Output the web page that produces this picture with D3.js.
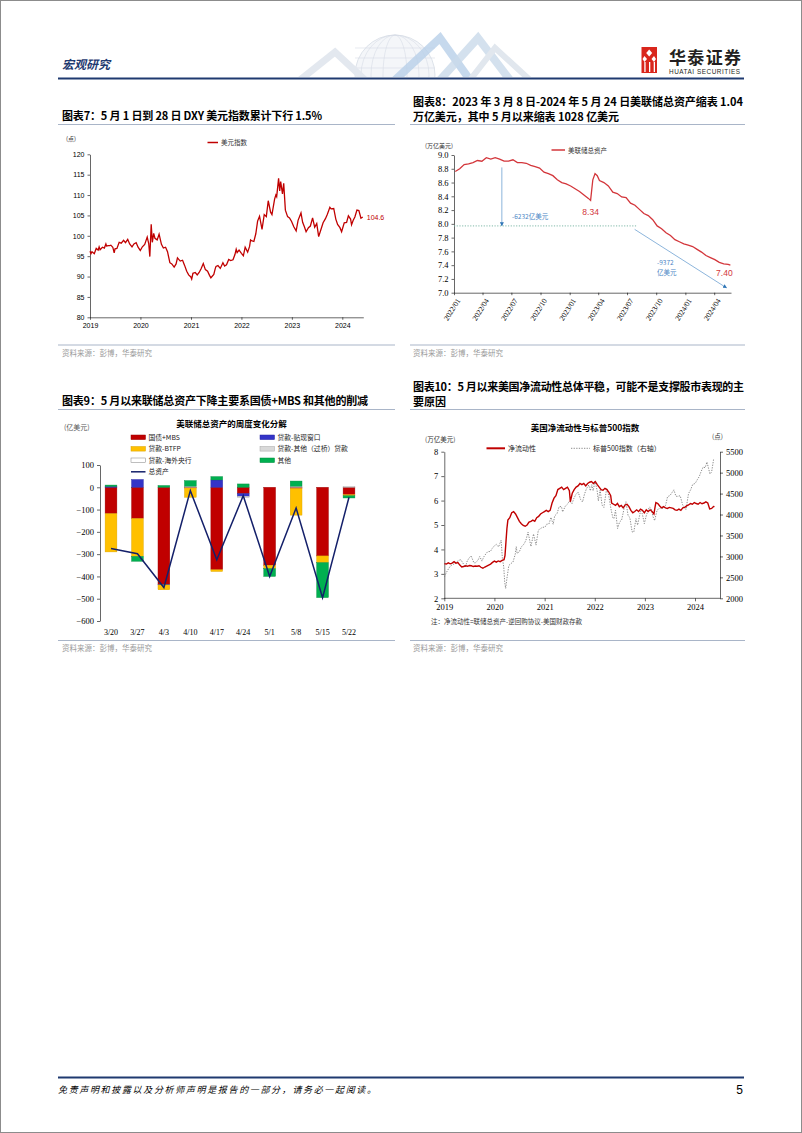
<!DOCTYPE html>
<html><head><meta charset="utf-8">
<script src="https://cdn.jsdelivr.net/npm/d3@7"></script>
<style>body{margin:0;background:#fff}svg{display:block}</style>
</head><body>
<svg id="page" width="802" height="1133"></svg>
<script>
// ---------------- DATA ----------------
const dxyTicks = [80,85,90,95,100,105,110,115,120];
const yearTicks = ["2019","2020","2021","2022","2023","2024"];
const dxyData = [
["2019-01-01",96.2],["2019-01-08",95.6],["2019-01-15",96.1],["2019-01-22",95.9],["2019-02-01",95.6],["2019-02-15",96.9],["2019-03-01",96.5],["2019-03-08",97.3],["2019-03-15",96.6],["2019-04-01",97.2],["2019-04-15",97.0],["2019-04-26",98.0],["2019-05-01",97.5],["2019-05-15",97.6],["2019-05-24",97.6],["2019-06-01",97.7],["2019-06-15",97.2],["2019-06-25",95.8],["2019-07-01",96.8],["2019-07-15",96.9],["2019-07-31",98.4],["2019-08-15",98.2],["2019-09-01",98.9],["2019-09-15",98.3],["2019-10-01",99.1],["2019-10-15",98.0],["2019-11-01",97.3],["2019-11-15",98.0],["2019-12-01",98.3],["2019-12-15",97.2],["2019-12-31",96.4],
["2020-01-15",97.3],["2020-02-01",97.9],["2020-02-19",99.7],["2020-03-01",98.1],["2020-03-09",94.9],["2020-03-19",102.8],["2020-03-27",98.4],["2020-04-06",100.6],["2020-04-15",99.4],["2020-05-01",99.0],["2020-05-15",100.4],["2020-06-01",97.9],["2020-06-15",97.0],["2020-07-01",97.2],["2020-07-15",96.1],["2020-08-01",93.4],["2020-08-15",93.1],["2020-09-01",92.3],["2020-09-15",93.1],["2020-09-25",94.6],["2020-10-15",93.8],["2020-11-01",94.0],["2020-11-15",92.8],["2020-12-01",91.3],["2020-12-15",90.4],["2020-12-31",89.9],
["2021-01-06",89.4],["2021-01-15",90.8],["2021-02-01",91.0],["2021-02-15",90.4],["2021-03-01",91.0],["2021-03-15",91.9],["2021-03-31",93.2],["2021-04-15",91.7],["2021-05-01",91.3],["2021-05-15",90.3],["2021-05-25",89.7],["2021-06-15",90.5],["2021-06-25",91.9],["2021-07-01",92.5],["2021-07-15",92.7],["2021-08-01",92.0],["2021-08-20",93.4],["2021-09-01",92.6],["2021-09-15",92.9],["2021-10-01",94.2],["2021-10-15",93.9],["2021-11-01",94.1],["2021-11-15",95.4],["2021-11-24",96.7],["2021-12-01",95.9],["2021-12-15",96.5],
["2022-01-01",95.7],["2022-01-15",95.1],["2022-01-28",97.2],["2022-02-15",96.0],["2022-03-01",97.4],["2022-03-08",99.0],["2022-03-15",98.8],["2022-04-01",98.6],["2022-04-15",100.5],["2022-04-28",103.6],["2022-05-12",104.8],["2022-05-30",101.6],["2022-06-15",105.2],["2022-06-30",104.7],["2022-07-14",108.6],["2022-07-31",105.8],["2022-08-10",105.2],["2022-08-29",109.0],["2022-09-07",110.0],["2022-09-13",109.6],["2022-09-27",114.1],["2022-10-05",111.0],["2022-10-12",113.3],["2022-10-25",110.3],["2022-11-03",112.9],["2022-11-15",106.3],["2022-12-01",104.7],["2022-12-15",104.4],["2022-12-30",103.5],
["2023-01-15",102.2],["2023-02-01",101.2],["2023-02-15",103.8],["2023-03-08",105.6],["2023-03-20",103.3],["2023-04-01",102.3],["2023-04-14",101.0],["2023-05-01",102.0],["2023-05-15",102.4],["2023-05-31",104.4],["2023-06-15",102.1],["2023-06-30",103.0],["2023-07-14",99.8],["2023-07-31",101.6],["2023-08-15",103.2],["2023-09-01",104.2],["2023-09-15",105.3],["2023-10-03",107.0],["2023-10-12",106.6],["2023-10-31",106.7],["2023-11-15",104.1],["2023-11-28",102.8],["2023-12-15",102.0],["2023-12-27",101.0],
["2024-01-15",103.2],["2024-02-01",103.3],["2024-02-14",104.9],["2024-03-01",104.1],["2024-03-08",102.7],["2024-03-20",103.8],["2024-04-01",104.6],["2024-04-16",106.3],["2024-04-30",106.2],["2024-05-15",104.3],["2024-05-28",104.6]
];
const dxyLastLabel = "104.6";

const fedTicks = [7.0,7.2,7.4,7.6,7.8,8.0,8.2,8.4,8.6,8.8,9.0];
const fedQuarterTicks = ["2022-01-01","2022-04-01","2022-07-01","2022-10-01","2023-01-01","2023-04-01","2023-07-01","2023-10-01","2024-01-01","2024-04-01"];
const fedData = [
["2022-01-05",8.76],["2022-01-19",8.80],["2022-02-02",8.86],["2022-02-16",8.87],["2022-03-02",8.89],["2022-03-16",8.92],["2022-03-30",8.91],["2022-04-13",8.96],["2022-04-27",8.94],["2022-05-11",8.96],["2022-05-25",8.94],["2022-06-08",8.91],["2022-06-22",8.91],["2022-07-06",8.93],["2022-07-20",8.89],["2022-08-03",8.89],["2022-08-17",8.88],["2022-08-31",8.85],["2022-09-14",8.83],["2022-09-28",8.81],["2022-10-12",8.75],["2022-10-26",8.73],["2022-11-09",8.70],["2022-11-23",8.64],["2022-12-07",8.60],["2022-12-21",8.58],["2023-01-04",8.55],["2023-01-18",8.51],["2023-02-01",8.47],["2023-02-15",8.42],["2023-03-01",8.37],["2023-03-08",8.34],["2023-03-15",8.64],["2023-03-22",8.73],["2023-03-29",8.70],["2023-04-05",8.63],["2023-04-19",8.60],["2023-05-03",8.55],["2023-05-17",8.46],["2023-05-31",8.44],["2023-06-14",8.39],["2023-06-28",8.38],["2023-07-12",8.30],["2023-07-26",8.27],["2023-08-09",8.21],["2023-08-23",8.15],["2023-09-06",8.12],["2023-09-20",8.06],["2023-10-04",7.97],["2023-10-18",7.93],["2023-11-01",7.87],["2023-11-15",7.83],["2023-11-29",7.77],["2023-12-13",7.74],["2023-12-27",7.71],["2024-01-10",7.69],["2024-01-24",7.67],["2024-02-07",7.63],["2024-02-21",7.59],["2024-03-06",7.54],["2024-03-20",7.51],["2024-04-03",7.48],["2024-04-17",7.44],["2024-05-01",7.42],["2024-05-15",7.41],["2024-05-22",7.40]
];

const weekLabels = ["3/20","3/27","4/3","4/10","4/17","4/24","5/1","5/8","5/15","5/22"];
const treasuryMBS   = [-118,-140,-435,-3,-370,-28,-350,-5,-308,-33];
const discountWindow= [4,35,-3,0,33,-12,0,0,0,0];
const btfp          = [-172,-170,-22,-42,-8,0,-15,-120,-30,-5];
const otherLoans    = [0,0,0,5,0,-5,0,5,0,3];
const foreignCB     = [0,0,0,0,0,0,0,0,0,0];
const otherItems    = [6,-22,8,25,15,15,-35,23,-157,-10];
const totalChange   = [-275,-298,-450,-15,-325,-38,-400,-93,-495,-45];
const chgTicks = [-600,-500,-400,-300,-200,-100,0,100];

const nlTicks = [2,3,4,5,6,7,8];
const spxTicks = [2000,2500,3000,3500,4000,4500,5000,5500];
const netLiq = [
["2019-01-02",3.42],["2019-01-16",3.40],["2019-01-30",3.45],["2019-02-13",3.41],["2019-02-27",3.44],["2019-03-13",3.50],["2019-03-27",3.44],["2019-04-10",3.46],["2019-04-24",3.36],["2019-05-08",3.28],["2019-05-22",3.30],["2019-06-05",3.33],["2019-06-19",3.31],["2019-07-03",3.34],["2019-07-17",3.33],["2019-07-31",3.30],["2019-08-14",3.32],["2019-08-28",3.31],["2019-09-11",3.33],["2019-09-25",3.27],["2019-10-09",3.23],["2019-10-23",3.28],["2019-11-06",3.32],["2019-11-20",3.36],["2019-12-04",3.40],["2019-12-18",3.47],["2020-01-01",3.52],["2020-01-15",3.48],["2020-01-29",3.53],["2020-02-12",3.50],["2020-02-26",3.55],["2020-03-11",3.58],["2020-03-18",3.75],["2020-03-25",4.30],["2020-04-01",4.85],["2020-04-08",5.20],["2020-04-22",5.30],["2020-05-06",5.50],["2020-05-20",5.55],["2020-06-03",5.45],["2020-06-17",5.30],["2020-07-01",5.15],["2020-07-15",5.05],["2020-07-29",4.98],["2020-08-12",4.95],["2020-08-26",5.00],["2020-09-09",5.12],["2020-09-23",5.15],["2020-10-07",5.20],["2020-10-21",5.15],["2020-11-04",5.30],["2020-11-18",5.35],["2020-12-02",5.45],["2020-12-16",5.50],["2020-12-30",5.55],["2021-01-13",5.60],["2021-01-27",5.55],["2021-02-10",5.60],["2021-02-24",5.90],["2021-03-10",6.10],["2021-03-24",6.20],["2021-04-07",6.45],["2021-04-21",6.50],["2021-05-05",6.55],["2021-05-19",6.45],["2021-06-02",6.50],["2021-06-16",6.55],["2021-06-30",6.40],["2021-07-07",5.95],["2021-07-21",6.30],["2021-08-04",6.45],["2021-08-18",6.55],["2021-09-01",6.60],["2021-09-15",6.70],["2021-09-29",6.65],["2021-10-13",6.70],["2021-10-27",6.60],["2021-11-10",6.70],["2021-11-24",6.75],["2021-12-08",6.78],["2021-12-22",6.70],["2022-01-05",6.78],["2022-01-19",6.65],["2022-02-02",6.55],["2022-02-16",6.45],["2022-03-02",6.42],["2022-03-16",6.50],["2022-03-30",6.45],["2022-04-13",6.35],["2022-04-27",6.20],["2022-05-04",5.90],["2022-05-18",5.85],["2022-06-01",5.80],["2022-06-15",5.88],["2022-06-29",5.75],["2022-07-13",5.80],["2022-07-27",5.70],["2022-08-10",5.82],["2022-08-24",5.85],["2022-09-07",5.75],["2022-09-21",5.60],["2022-10-05",5.50],["2022-10-19",5.55],["2022-11-02",5.62],["2022-11-16",5.55],["2022-11-30",5.65],["2022-12-14",5.60],["2022-12-28",5.50],["2023-01-11",5.62],["2023-01-25",5.55],["2023-02-08",5.62],["2023-02-22",5.55],["2023-03-08",5.45],["2023-03-15",5.70],["2023-03-22",5.92],["2023-04-05",5.88],["2023-04-19",5.78],["2023-05-03",5.70],["2023-05-17",5.75],["2023-05-31",5.70],["2023-06-14",5.68],["2023-06-28",5.72],["2023-07-12",5.70],["2023-07-26",5.68],["2023-08-09",5.62],["2023-08-23",5.60],["2023-09-06",5.65],["2023-09-20",5.60],["2023-10-04",5.70],["2023-10-18",5.72],["2023-11-01",5.78],["2023-11-15",5.82],["2023-11-29",5.88],["2023-12-13",5.85],["2023-12-27",5.92],["2024-01-10",5.88],["2024-01-24",5.85],["2024-02-07",5.92],["2024-02-21",5.87],["2024-03-06",5.90],["2024-03-20",5.95],["2024-04-03",5.90],["2024-04-17",5.66],["2024-05-01",5.68],["2024-05-15",5.76],["2024-05-22",5.75]
];
const spx = [
["2019-01-02",2510],["2019-01-16",2615],["2019-02-01",2706],["2019-02-15",2775],["2019-03-01",2803],["2019-03-15",2822],["2019-04-01",2867],["2019-04-15",2905],["2019-05-01",2923],["2019-05-15",2850],["2019-06-03",2744],["2019-06-17",2889],["2019-07-01",2964],["2019-07-15",3014],["2019-08-05",2845],["2019-08-15",2848],["2019-09-03",2906],["2019-09-16",2998],["2019-10-02",2888],["2019-10-16",2990],["2019-11-01",3067],["2019-11-15",3120],["2019-12-02",3114],["2019-12-16",3191],["2020-01-02",3258],["2020-01-15",3289],["2020-01-31",3226],["2020-02-19",3386],["2020-02-28",2954],["2020-03-09",2747],["2020-03-16",2386],["2020-03-23",2237],["2020-04-01",2471],["2020-04-15",2784],["2020-05-01",2831],["2020-05-15",2864],["2020-06-01",3055],["2020-06-08",3232],["2020-06-15",3067],["2020-07-01",3115],["2020-07-15",3227],["2020-08-03",3294],["2020-08-17",3381],["2020-09-02",3580],["2020-09-23",3237],["2020-10-12",3535],["2020-10-30",3270],["2020-11-16",3627],["2020-12-01",3662],["2020-12-15",3694],["2021-01-04",3700],["2021-01-15",3768],["2021-02-01",3774],["2021-02-16",3932],["2021-03-04",3768],["2021-03-15",3968],["2021-04-01",4020],["2021-04-16",4185],["2021-05-03",4192],["2021-05-12",4063],["2021-06-01",4202],["2021-06-15",4246],["2021-07-01",4320],["2021-07-19",4258],["2021-08-02",4387],["2021-08-16",4479],["2021-09-02",4537],["2021-09-20",4358],["2021-10-04",4300],["2021-10-18",4486],["2021-11-01",4613],["2021-11-18",4704],["2021-11-30",4567],["2021-12-10",4712],["2021-12-20",4568],["2022-01-03",4796],["2022-01-18",4577],["2022-01-27",4326],["2022-02-09",4587],["2022-02-23",4225],["2022-03-08",4170],["2022-03-29",4631],["2022-04-13",4447],["2022-04-29",4132],["2022-05-12",3930],["2022-05-20",3901],["2022-06-01",4101],["2022-06-16",3667],["2022-07-01",3825],["2022-07-15",3863],["2022-08-01",4119],["2022-08-16",4305],["2022-09-01",3967],["2022-09-13",3932],["2022-09-30",3586],["2022-10-12",3577],["2022-10-28",3901],["2022-11-09",3748],["2022-11-30",4080],["2022-12-13",4020],["2022-12-28",3783],["2023-01-12",3983],["2023-02-02",4179],["2023-02-15",4147],["2023-03-01",3951],["2023-03-13",3855],["2023-03-31",4109],["2023-04-14",4137],["2023-05-01",4167],["2023-05-15",4136],["2023-06-01",4221],["2023-06-15",4426],["2023-07-03",4455],["2023-07-31",4589],["2023-08-15",4437],["2023-08-28",4433],["2023-09-15",4450],["2023-10-03",4229],["2023-10-27",4117],["2023-11-15",4502],["2023-12-01",4595],["2023-12-15",4719],["2024-01-02",4742],["2024-01-19",4840],["2024-02-01",4906],["2024-02-15",5030],["2024-03-01",5137],["2024-03-15",5117],["2024-03-28",5254],["2024-04-19",4967],["2024-05-01",5018],["2024-05-15",5308],["2024-05-22",5307]
];

// ---------------- SETUP ----------------
const svg = d3.select('#page');
const parse = d3.timeParse('%Y-%m-%d');
const SANS = 'Liberation Sans, Arial, sans-serif';
const SERIF = 'Liberation Serif, Times New Roman, serif';
const CJK = 'Noto Sans CJK SC, sans-serif';
const NAVY = '#1f3a70';
const RULE = '#a9b5c8';

function styleAxis(g, font, size){
  g.attr('font-family', font).attr('font-size', size);
  g.selectAll('text').attr('fill','#000');
  g.selectAll('line,path').attr('stroke','#000').attr('stroke-width',0.6);
}
function txt(x,y,s,opt={}){
  const t = svg.append('text').attr('x',x).attr('y',y).text(s)
    .attr('font-family',opt.font||CJK).attr('font-size',opt.size||8)
    .attr('fill',opt.fill||'#000');
  if(opt.weight) t.attr('font-weight',opt.weight);
  if(opt.anchor) t.attr('text-anchor',opt.anchor);
  if(opt.style) t.attr('font-style',opt.style);
  if(opt.len) t.attr('textLength',opt.len).attr('lengthAdjust','spacing');
  return t;
}
function hline(y,x1,x2,color,w){
  svg.append('line').attr('x1',x1).attr('x2',x2).attr('y1',y).attr('y2',y).attr('stroke',color).attr('stroke-width',w);
}

// page border
svg.append('rect').attr('x',0.5).attr('y',0.5).attr('width',801).attr('height',1132).attr('fill','none').attr('stroke','#8c8c8c');

// ---------------- HEADER ----------------
const deco = svg.append('g');
deco.append('defs').append('clipPath').attr('id','hc').append('rect').attr('x',280).attr('y',28).attr('width',280).attr('height',49);
const dg = deco.append('g').attr('clip-path','url(#hc)');
dg.append('circle').attr('cx',395).attr('cy',75).attr('r',40).attr('fill','#f4f6f9').attr('stroke','#d6dce5').attr('stroke-width',0.8);
[12,24,34].forEach(rx=>dg.append('ellipse').attr('cx',395).attr('cy',75).attr('rx',rx).attr('ry',40).attr('fill','none').attr('stroke','#d6dce5').attr('stroke-width',0.6));
[48,58,68].forEach(y=>dg.append('line').attr('x1',355).attr('x2',435).attr('y1',y).attr('y2',y).attr('stroke','#d6dce5').attr('stroke-width',0.6));
dg.append('polyline').attr('points','300,80 335,52 365,80').attr('fill','none').attr('stroke','#e3e8ef').attr('stroke-width',7);
dg.append('polyline').attr('points','395,80 440,38 470,80').attr('fill','none').attr('stroke','#b8cfe8').attr('stroke-width',8).attr('opacity',0.8);
dg.append('polyline').attr('points','440,80 478,38 510,80').attr('fill','none').attr('stroke','#c9d9ea').attr('stroke-width',8).attr('opacity',0.8);
dg.append('polyline').attr('points','470,80 495,48 530,80').attr('fill','none').attr('stroke','#e1e7ee').attr('stroke-width',6);

txt(62,69,'宏观研究',{size:12,weight:'bold',fill:NAVY,style:'italic'});
hline(78.5,58,744,NAVY,2);
// logo
const lg = svg.append('g');
lg.append('rect').attr('x',641.5).attr('y',47).attr('width',15.5).attr('height',26).attr('fill','#d9261c');
lg.append('path').attr('d','M649.2,49.5 L652.2,53 L649.2,56.5 L646.2,53 Z').attr('fill','#fff');
lg.append('path').attr('d','M644.5,56 L647,59 L644.5,62 L642.5,59 Z').attr('fill','#fff');
lg.append('path').attr('d','M654,56 L656,59 L654,62 L651.5,59 Z').attr('fill','#fff');
[644.3,649,653.7].forEach(x=>lg.append('rect').attr('x',x).attr('y',62).attr('width',1.3).attr('height',10).attr('fill','#fff'));
txt(669,64,'华泰证券',{size:17,weight:'bold',fill:'#231f20',len:72});
txt(669,73.5,'HUATAI SECURITIES',{font:SANS,size:6.4,fill:'#231f20',len:71});

// ---------------- TITLES / RULES ----------------
txt(62,120,'图表7：5 月 1 日到 28 日 DXY 美元指数累计下行 1.5%',{size:11,weight:'bold',len:260});
txt(413,106,'图表8：2023 年 3 月 8 日-2024 年 5 月 24 日美联储总资产缩表 1.04',{size:11,weight:'bold',len:330});
txt(413,120.5,'万亿美元，其中 5 月以来缩表 1028 亿美元',{size:11,weight:'bold',len:206});
hline(124.5,58,395,RULE,1); hline(124.5,410,745,RULE,1);
hline(345,58,395,RULE,1); hline(345,410,745,RULE,1);
txt(62,355.5,'资料来源：彭博，华泰研究',{size:7.5,fill:'#9a9a9a'});
txt(413,355.5,'资料来源：彭博，华泰研究',{size:7.5,fill:'#9a9a9a'});

txt(62,405,'图表9：5 月以来联储总资产下降主要系国债+MBS 和其他的削减',{size:11,weight:'bold',len:306});
txt(413,391,'图表10：5 月以来美国净流动性总体平稳，可能不是支撑股市表现的主',{size:11,weight:'bold',len:331});
txt(413,406,'要原因',{size:11,weight:'bold'});
hline(409.5,58,395,RULE,1); hline(409.5,410,745,RULE,1);
hline(640.5,58,395,RULE,1); hline(640.5,410,745,RULE,1);
txt(62,651,'资料来源：彭博，华泰研究',{size:7.5,fill:'#9a9a9a'});
txt(413,651,'资料来源：彭博，华泰研究',{size:7.5,fill:'#9a9a9a'});

// ---------------- CHART 7 ----------------
{
  const x = d3.scaleTime().domain([parse('2019-01-01'),parse('2024-06-01')]).range([90,363.3]);
  const y = d3.scaleLinear().domain([80,120]).range([317.3,154.3]);
  const gy = svg.append('g').attr('transform','translate(90,0)')
    .call(d3.axisLeft(y).tickValues(dxyTicks).tickSize(2.5).tickPadding(3).tickSizeOuter(0));
  styleAxis(gy,SANS,7);
  const gx = svg.append('g').attr('transform','translate(0,317.3)')
    .call(d3.axisBottom(x).tickValues(yearTicks.map(s=>parse(s+'-01-01'))).tickFormat(d3.timeFormat('%Y')).tickSize(2.5).tickPadding(3).tickSizeOuter(0));
  styleAxis(gx,SANS,7);
  svg.append('path').datum(dxyData).attr('fill','none').attr('stroke','#c00000').attr('stroke-width',1.3)
    .attr('d',d3.line().x(d=>x(parse(d[0]))).y(d=>y(d[1])));
  const last = dxyData[dxyData.length-1];
  txt(x(parse(last[0]))+4,y(last[1])+2.5,dxyLastLabel,{font:SANS,size:7,fill:'#c00000'});
  svg.append('line').attr('x1',207.5).attr('x2',218).attr('y1',142.5).attr('y2',142.5).attr('stroke','#c00000').attr('stroke-width',1.5);
  txt(221,145,'美元指数',{size:6.5,fill:'#333'});
  txt(66,141,'(点)',{size:6,fill:'#333'});
}

// ---------------- CHART 8 ----------------
{
  const x = d3.scaleTime().domain([parse('2022-01-01'),parse('2024-05-24')]).range([454,731]);
  const y = d3.scaleLinear().domain([7,9]).range([292.7,155]);
  const gy = svg.append('g').attr('transform','translate(454,0)')
    .call(d3.axisLeft(y).tickValues(fedTicks).tickFormat(d3.format('.1f')).tickSize(2.5).tickPadding(3).tickSizeOuter(0));
  styleAxis(gy,SERIF,8.5);
  const gx = svg.append('g').attr('transform','translate(0,292.7)')
    .call(d3.axisBottom(x).tickValues(fedQuarterTicks.map(parse)).tickFormat(d3.timeFormat('%Y/%m')).tickSize(2.5).tickSizeOuter(0));
  styleAxis(gx,SERIF,7.5);
  gx.selectAll('text').attr('text-anchor','end').attr('dy','0.3em').attr('dx','-0.1em').attr('transform','translate(0,3) rotate(-58)');
  svg.append('path').datum(fedData).attr('fill','none').attr('stroke','#d3363b').attr('stroke-width',1.3)
    .attr('d',d3.line().x(d=>x(parse(d[0]))).y(d=>y(d[1])));
  svg.append('line').attr('x1',551.5).attr('x2',565).attr('y1',150).attr('y2',150).attr('stroke','#d3363b').attr('stroke-width',1.5);
  txt(568,152.5,'美联储总资产',{size:6.5,fill:'#333'});
  txt(425,148,'(万亿美元)',{size:6,fill:'#333'});
  // annotations
  const defs = svg.append('defs');
  defs.append('marker').attr('id','arr').attr('viewBox','0 0 10 10').attr('refX',9).attr('refY',5)
    .attr('markerWidth',5).attr('markerHeight',5).attr('orient','auto')
    .append('path').attr('d','M0,0 L10,5 L0,10 Z').attr('fill','#2e75b6');
  const peakX = x(parse('2022-06-01'));
  svg.append('line').attr('x1',peakX).attr('x2',peakX).attr('y1',y(8.82)).attr('y2',y(7.97)).attr('stroke','#6fa1d2').attr('stroke-width',0.8).attr('marker-end','url(#arr)');
  svg.append('line').attr('x1',454).attr('x2',x(parse('2023-08-01'))).attr('y1',y(7.97)).attr('y2',y(7.97)).attr('stroke','#7fb8a8').attr('stroke-width',1).attr('stroke-dasharray','1.2,1.5');
  svg.append('line').attr('x1',x(parse('2023-07-25'))).attr('x2',x(parse('2024-05-10'))).attr('y1',y(7.92)).attr('y2',y(7.07)).attr('stroke','#6fa1d2').attr('stroke-width',0.8).attr('marker-end','url(#arr)');
  txt(512,219,'-6232亿美元',{size:6.5,fill:'#4a86c5'});
  txt(657,265,'-9372',{size:6.5,fill:'#4a86c5'});
  txt(657,275,'亿美元',{size:6.5,fill:'#4a86c5'});
  txt(x(parse('2023-03-08')),y(8.13),'8.34',{font:SANS,size:8.5,fill:'#d3363b',anchor:'middle'});
  txt(x(parse('2024-05-22'))-6,y(7.24),'7.40',{font:SANS,size:8.5,fill:'#d3363b',anchor:'middle'});
}

// ---------------- CHART 9 ----------------
{
  const keys = ['tsy','dw','btfp','ol','fcb','oth'];
  const colors = {tsy:'#c00000',dw:'#3434c8',btfp:'#ffc000',ol:'#d9d9d9',fcb:'#ffffff',oth:'#00b050'};
  const strokes = {tsy:'#9b0000',dw:'#2424a0',btfp:'#d9a300',ol:'#a6a6a6',fcb:'#7f7f7f',oth:'#008a3e'};
  const rows = weekLabels.map((w,i)=>({week:w,tsy:treasuryMBS[i],dw:discountWindow[i],btfp:btfp[i],ol:otherLoans[i],fcb:foreignCB[i],oth:otherItems[i]}));
  const series = d3.stack().keys(keys).offset(d3.stackOffsetDiverging)(rows);
  const x = d3.scalePoint().domain(weekLabels).range([111,349]);
  const y = d3.scaleLinear().domain([-600,100]).range([621,465]);
  const bw = 11.8;
  const gy = svg.append('g').attr('transform','translate(100,0)')
    .call(d3.axisLeft(y).tickValues(chgTicks).tickSize(3).tickPadding(3).tickSizeOuter(0));
  styleAxis(gy,SERIF,8.5);
  series.forEach(s=>{
    svg.append('g').selectAll('rect').data(s).join('rect')
      .attr('x',d=>x(d.data.week)-bw/2).attr('width',bw)
      .attr('y',d=>y(Math.max(d[0],d[1]))).attr('height',d=>Math.abs(y(d[0])-y(d[1])))
      .attr('fill',colors[s.key]).attr('stroke',d=>Math.abs(d[1]-d[0])>0?strokes[s.key]:'none').attr('stroke-width',0.4);
  });
  svg.append('path').datum(totalChange).attr('fill','none').attr('stroke','#14206a').attr('stroke-width',1.5)
    .attr('d',d3.line().x((d,i)=>x(weekLabels[i])).y(d=>y(d)));
  svg.append('g').selectAll('text').data(weekLabels).join('text')
    .attr('x',d=>x(d)).attr('y',634.5).attr('text-anchor','middle').text(d=>d)
    .attr('font-family',SERIF).attr('font-size',8);
  txt(231.5,427,'美联储总资产的周度变化分解',{size:8.5,weight:'bold',anchor:'middle'});
  txt(64,429.5,'(亿美元)',{size:7,fill:'#555'});
  const leg = [
    ['tsy','国债+MBS',131,437.3],['dw','贷款-贴现窗口',260,437.3],
    ['btfp','贷款-BTFP',131,448.8],['ol','贷款-其他（过桥）贷款',260,448.8],
    ['fcb','贷款-海外央行',131,460.3],['oth','其他',260,460.3]];
  leg.forEach(([k,l,lx,ly])=>{
    svg.append('rect').attr('x',lx).attr('y',ly-2.3).attr('width',14.5).attr('height',4.6).attr('fill',colors[k]).attr('stroke',strokes[k]).attr('stroke-width',0.5);
    txt(lx+17.5,ly+2.5,l,{size:6.8,fill:'#222'});
  });
  svg.append('line').attr('x1',131).attr('x2',145.5).attr('y1',471.8).attr('y2',471.8).attr('stroke','#14206a').attr('stroke-width',1.5);
  txt(148.5,474.3,'总资产',{size:6.8,fill:'#222'});
}

// ---------------- CHART 10 ----------------
{
  const x = d3.scaleTime().domain([parse('2019-01-01'),parse('2024-01-01')]).range([444.3,695]);
  const yL = d3.scaleLinear().domain([2,8]).range([598.3,451.7]);
  const yR = d3.scaleLinear().domain([2000,5500]).range([598.3,451.7]);
  const gl = svg.append('g').attr('transform','translate(444.3,0)')
    .call(d3.axisLeft(yL).tickValues(nlTicks).tickFormat(d3.format('d')).tickSize(3).tickPadding(3).tickSizeOuter(0));
  styleAxis(gl,SERIF,8.5);
  const gr = svg.append('g').attr('transform','translate(720,0)')
    .call(d3.axisRight(yR).tickValues(spxTicks).tickFormat(d3.format('d')).tickSize(3).tickPadding(3).tickSizeOuter(0));
  styleAxis(gr,SERIF,8.5);
  const gx = svg.append('g').attr('transform','translate(0,598.3)')
    .call(d3.axisBottom(x).tickValues(yearTicks.map(s=>parse(s+'-01-01'))).tickFormat(d3.timeFormat('%Y')).tickSize(3).tickPadding(3).tickSizeOuter(0));
  styleAxis(gx,SERIF,8.5);
  gx.select('.domain').attr('d','M444.3,0H720');
  svg.append('path').datum(spx).attr('fill','none').attr('stroke','#7f7f7f').attr('stroke-width',0.9).attr('stroke-dasharray','1.3,1.3')
    .attr('d',d3.line().x(d=>x(parse(d[0]))).y(d=>yR(d[1])));
  svg.append('path').datum(netLiq).attr('fill','none').attr('stroke','#c00000').attr('stroke-width',1.4)
    .attr('d',d3.line().x(d=>x(parse(d[0]))).y(d=>yL(d[1])));
  txt(585,430.5,'美国净流动性与标普500指数',{size:8.5,weight:'bold',anchor:'middle'});
  txt(425,442,'(万亿美元)',{size:6.5,fill:'#333'});
  txt(712,438.5,'(点)',{size:6.5,fill:'#333'});
  svg.append('line').attr('x1',486.5).attr('x2',505).attr('y1',448.3).attr('y2',448.3).attr('stroke','#c00000').attr('stroke-width',2);
  txt(508,451,'净流动性',{size:7,fill:'#222'});
  svg.append('line').attr('x1',571).attr('x2',590).attr('y1',448.3).attr('y2',448.3).attr('stroke','#7f7f7f').attr('stroke-width',0.9).attr('stroke-dasharray','1.3,1.3');
  txt(593,451,'标普500指数（右轴）',{size:7,fill:'#222'});
  txt(431,623.5,'注：净流动性=联储总资产-逆回购协议-美国财政存款',{size:6.5,fill:'#333'});
}

// ---------------- FOOTER ----------------
hline(1077.5,58,744,NAVY,2);
txt(58,1093,'免责声明和披露以及分析师声明是报告的一部分，请务必一起阅读。',{size:9,style:'italic',len:318});
txt(743,1094,'5',{font:SANS,size:12,anchor:'end'});
</script>
</body></html>
